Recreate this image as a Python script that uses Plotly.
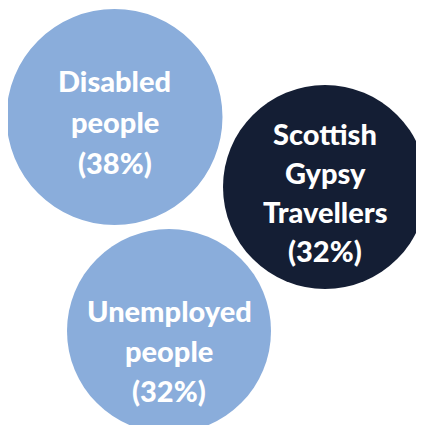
import plotly.graph_objects as go

# Data
groups = ["Disabled people", "Scottish Gypsy Travellers", "Unemployed people"]
label_lines = [["Disabled", "people"], ["Scottish", "Gypsy", "Travellers"], ["Unemployed", "people"]]
percentages = [38, 32, 32]
colors = ["#8aaddb", "#141e34", "#8aaddb"]

# Layout geometry (pixel-like coordinates of the page)
centers_x = [114.5, 325, 169]
centers_y = [117, 187, 331]
radii = [108, 102, 102]
text_mid_y = [121, 192, 350]
line_gap = [41, 39, 40]

W, H = 424, 425
OFF = 8  # page body margin
fig = go.Figure()
fig.add_trace(go.Scatter(x=[OFF, W], y=[OFF, H], mode="markers", marker=dict(opacity=0), hoverinfo="skip", showlegend=False))

for i, g in enumerate(groups):
    cx, cy, r = centers_x[i], centers_y[i], radii[i]
    fig.add_shape(type="circle", xref="x", yref="y", x0=cx - r, x1=cx + r, y0=cy - r, y1=cy + r,
                  fillcolor=colors[i], line=dict(width=0), layer="below")
    lines = label_lines[i] + [f"({percentages[i]}%)"]
    n = len(lines)
    for j, t in enumerate(lines):
        y = text_mid_y[i] + (j - (n - 1) / 2) * line_gap[i]
        fig.add_annotation(x=cx, y=y, xref="x", yref="y", text=t, showarrow=False,
                           xanchor="center", yanchor="middle",
                           font=dict(family="Lato", size=29, color="white", weight=900))

fig.update_layout(width=W - OFF, height=H - OFF, margin=dict(l=0, r=0, t=0, b=0),
                  paper_bgcolor="white", plot_bgcolor="white", showlegend=False)
fig.update_xaxes(range=[OFF, W], visible=False, fixedrange=True)
fig.update_yaxes(range=[H, OFF], visible=False, fixedrange=True)
fig.write_html("out.html")
